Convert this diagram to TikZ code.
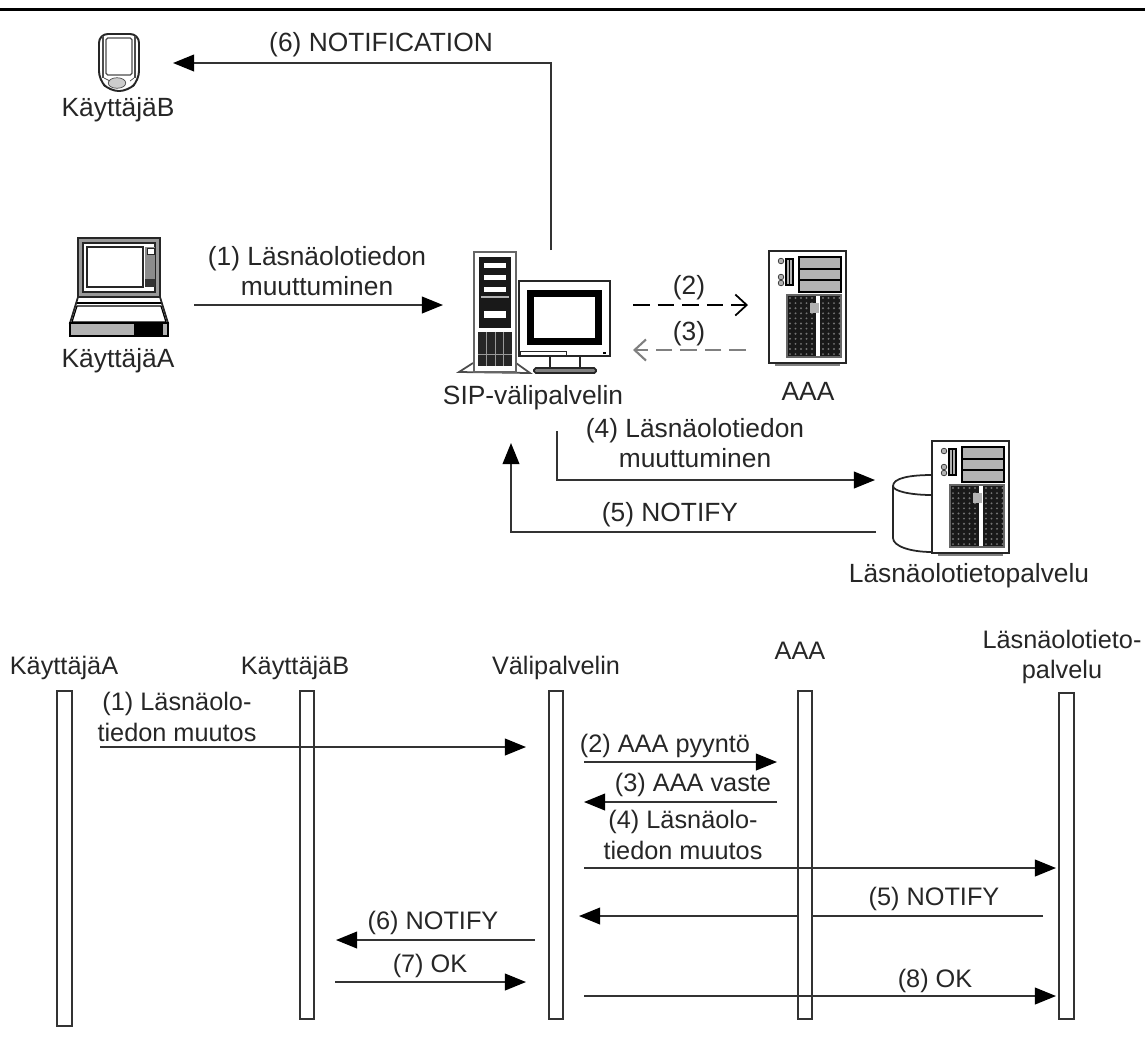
\documentclass[tikz,border=0pt]{standalone}
\usepackage{fontspec}
\setmainfont{Liberation Sans}
\usetikzlibrary{arrows.meta}

\tikzset{
    lbl/.style={inner sep=0pt, align=center, text=black!85, font=\fontsize{15}{17.5}\selectfont},
    seqlbl/.style={lbl, font=\fontsize{14.4}{17.5}\selectfont},
    msg/.style={line width=1pt, draw=black!80, -{Triangle[length=12pt, width=9.5pt, fill=black, color=black]}},
    dashmsg/.style={line width=1pt, dash pattern=on 9.5pt off 4.5pt, -{Straight Barb[length=6.5pt, width=12pt]}},
    lifeline/.style={draw=black!80, fill=white, line width=1pt, minimum width=0.29cm, inner sep=0pt},
    icon/.style={draw=black!85, line width=0.7pt, fill=white},
    panel/.style={draw=black, line width=0.7pt, fill=black!30}
}

% tower with drive bays and a grille, origin at its top left corner
\newcommand{\drawrack}[2]{
    \begin{scope}[shift={(#1,#2)}]
        \fill[black!50] (6,110) rectangle (71,115);
        \draw[icon, line width=1.1pt] (0,0) rectangle (77,112);
        \draw[panel] (30,6) rectangle (72,41);
        \draw[line width=1pt] (30,18) -- (72,18) (30,29) -- (72,29);
        \draw[panel] (17,8) rectangle (24,34);
        \draw (20,8) -- (20,34);
        \foreach \y in {10,26,32} {
            \draw[draw=black!80, fill=black!30] (12,\y) circle (1.6pt);
        }
        \draw[draw=black!60, fill=black!90, line width=0.7pt] (18,44) rectangle (72,106);
        \foreach \i in {0,...,9} {
            \foreach \j in {0,...,11} {
                \fill[black!55] (21+5.5*\i,47+5.1*\j) circle (0.6pt);
            }
        }
        \fill[white] (47,45) rectangle (51,105);
        \fill[black!30] (41,52) rectangle (50,62);
    \end{scope}
}

\begin{document}
\begin{tikzpicture}[x=0.02cm, y=-0.02cm]
    \useasboundingbox (0,0) rectangle (1145,1036);

    % Rule at the top
    \fill[black] (0,8) rectangle (1145,11);

    % Handheld of user B
    \draw[icon, line width=1.1pt, rounded corners=5pt] (99,34) -- (139,34) -- (139,80) -- (128,91) -- (110,91) -- (99,80) -- cycle;
    \draw[draw=black!70, line width=0.7pt] (103,36) -- (103,78) (135,36) -- (135,78);
    \draw[icon, draw=black!70, rounded corners=1pt] (106,38) rectangle (132,75);
    \draw[draw=black!70, fill=black!20] (117,83) ellipse (5pt and 3pt);
    \draw[draw=black!70] (104,78) -- (110,81) (130,81) -- (134,78);
    \node[lbl] (userB) at (118,110) {KäyttäjäB};

    % Laptop of user A
    \draw[icon, fill=black!40, line width=1.1pt] (78,238) rectangle (160,297);
    \draw[icon, line width=1pt] (83,243) rectangle (155,292);
    \draw[icon, line width=1.1pt] (87,247) rectangle (143,287);
    \fill[black!45] (145,247) rectangle (155,287);
    \draw[icon, line width=0.5pt] (147,248) rectangle (154,254);
    \fill[black!80] (145,279) rectangle (155,287);
    \draw[icon, line width=1pt] (78,297) -- (160,297) -- (168,323) -- (70,323) -- cycle;
    \draw[line width=1pt] (77,303) -- (161,303);
    \draw[line width=0.7pt] (77,306) -- (161,306) -- (166,322) -- (72,322) -- cycle;
    \draw[draw=black, fill=black!30, line width=1pt] (70,323) rectangle (168,336);
    \fill[black] (134,324) rectangle (163,335);
    \node[lbl] (userA) at (118,361) {KäyttäjäA};

    % SIP proxy: tower
    \draw[icon, draw=black!70, line width=1pt] (473,363) -- (459,372) -- (530,373) -- (516,363);
    \draw[icon, draw=black!60, line width=1.4pt] (474,252) rectangle (516,372);
    \fill[black!90] (479,257) rectangle (511,328);
    \foreach \y/\h in {263/5, 275/5, 287/5, 311/7} {
        \fill[white] (484,\y) rectangle (506,\y+\h);
    }
    \fill[black!30] (481,296) rectangle (509,298);
    \fill[black!85] (478,332) rectangle (512,366);
    \foreach \x in {486,495,503} {
        \draw[draw=black!40] (\x,332) -- (\x,366);
    }
    \draw[draw=black!40] (478,354) -- (512,354);

    % SIP proxy: monitor
    \draw[icon, line width=1pt] (550,356) rectangle (580,368);
    \draw[draw=black!85, fill=black!50, line width=1pt, rounded corners=1pt] (534,368) rectangle (596,373);
    \draw[icon, line width=1pt] (519,281) rectangle (610,356);
    \fill[black] (527,290) rectangle (602,345);
    \fill[white] (534,297) rectangle (595,338);
    \draw[draw=black!85] (520,351) rectangle (566,355);
    \fill[black] (603,352) rectangle (606,354);
    \node[lbl] (sip) at (533,398) {SIP-välipalvelin};

    % AAA server
    \drawrack{769}{251}
    \node[lbl] (aaa) at (808,391) {AAA};

    % Presence server with its storage
    \draw[icon, line width=1pt] (932,475) .. controls (910,475) and (893,478) .. (893,486) -- (893,538) .. controls (893,546) and (910,552) .. (932,552);
    \draw[line width=1pt, draw=black!85] (893,486) .. controls (893,491) and (910,495) .. (932,495);
    \drawrack{932}{441}
    \node[lbl] (presence) at (969,576) {Läsnäolotietopalvelu};

    % Messages between the servers
    \coordinate (msgAs) at (194,305);
    \coordinate (msgAe) at (443,305);
    \draw[msg] (msgAs) -- (msgAe);
    \node[lbl] (msgAl) at (317,271) {(1) Läsnäolotiedon\\muuttuminen};

    \coordinate (reqs) at (633,305);
    \coordinate (reqe) at (748,305);
    \draw[dashmsg] (reqs) -- (reqe);
    \node[lbl] (reql) at (689,288) {(2)};

    \coordinate (ress) at (746,350);
    \coordinate (rese) at (633,350);
    \draw[dashmsg, black!50, line width=1.2pt] (ress) -- (rese);
    \node[lbl] (resl) at (689,334) {(3)};

    \coordinate (pubs) at (557,431);
    \coordinate (pube) at (875,480);
    \draw[msg] (pubs) |- (pube);
    \node[lbl] (publ) at (695,443) {(4) Läsnäolotiedon\\muuttuminen};

    \coordinate (nots) at (876,532);
    \coordinate (note) at (511,443);
    \draw[msg] (nots) -| (note);
    \node[lbl] (notl) at (670,515) {(5) NOTIFY};

    \coordinate (infs) at (551,250);
    \coordinate (infe) at (173,63);
    \draw[msg] (infs) |- (infe);
    \node[lbl] (infl) at (381,45) {(6) NOTIFICATION};

    % Sequence chart: headers
    \node[seqlbl] (headA) at (64,668) {KäyttäjäA};
    \node[seqlbl] (headB) at (295,668) {KäyttäjäB};
    \node[seqlbl] (headV) at (556,668) {Välipalvelin};
    \node[seqlbl] (headAAA) at (800,651) {AAA};
    \node[seqlbl] (headP) at (1062,657) {Läsnäolotieto-\\palvelu};

    % This message stops at the AAA bar
    \coordinate (sfives) at (1043,916);
    \coordinate (sfivee) at (579,916);
    \draw[msg] (sfives) -- (sfivee);

    % Sequence chart: bars
    \node[lifeline, minimum height=6.7cm] (lifeA) at (64.5,858.5) {};
    \node[lifeline, minimum height=6.56cm] (lifeB) at (307,855) {};
    \node[lifeline, minimum height=6.56cm] (lifeV) at (556,855) {};
    \node[lifeline, minimum height=6.56cm] (lifeAAA) at (805,855) {};
    \node[lifeline, minimum height=6.52cm] (lifeP) at (1066.5,856) {};

    % Sequence chart: messages
    \coordinate (sones) at (100,747);
    \coordinate (sonee) at (526,747);
    \draw[msg] (sones) -- (sonee);
    \node[seqlbl] (sonel) at (177,717) {(1) Läsnäolo-\\tiedon muutos};

    \coordinate (stwos) at (584,762);
    \coordinate (stwoe) at (777,762);
    \draw[msg] (stwos) -- (stwoe);
    \node[seqlbl] (stwol) at (665,746) {(2) AAA pyyntö};

    \coordinate (sthrees) at (777,802);
    \coordinate (sthreee) at (584,802);
    \draw[msg] (sthrees) -- (sthreee);
    \node[seqlbl] (sthreel) at (693,785) {(3) AAA vaste};

    \coordinate (sfours) at (584,868);
    \coordinate (sfoure) at (1056,868);
    \draw[msg] (sfours) -- (sfoure);
    \node[seqlbl] (sfourl) at (683,835) {(4) Läsnäolo-\\tiedon muutos};

    \node[seqlbl] (sfivel) at (934,899) {(5) NOTIFY};

    \coordinate (ssixs) at (535,940);
    \coordinate (ssixe) at (336,940);
    \draw[msg] (ssixs) -- (ssixe);
    \node[seqlbl] (ssixl) at (433,923) {(6) NOTIFY};

    \coordinate (ssevens) at (335,982);
    \coordinate (ssevene) at (526,982);
    \draw[msg] (ssevens) -- (ssevene);
    \node[seqlbl] (ssevenl) at (430,966) {(7) OK};

    \coordinate (seights) at (584,996);
    \coordinate (seighte) at (1056,996);
    \draw[msg] (seights) -- (seighte);
    \node[seqlbl] (seightl) at (935,981) {(8) OK};
\end{tikzpicture}
\end{document}
